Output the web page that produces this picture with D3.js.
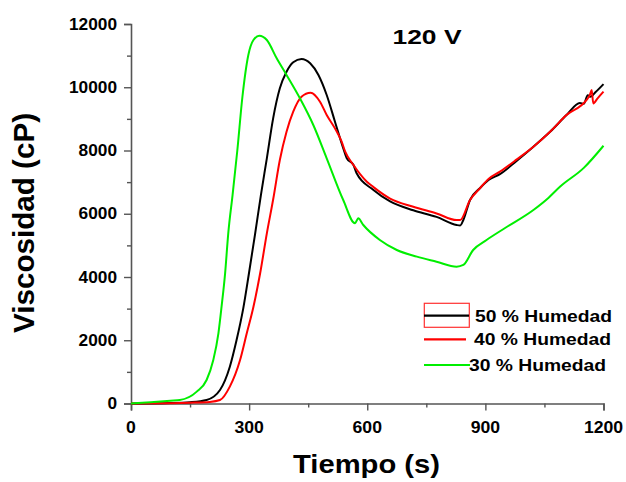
<!DOCTYPE html>
<html><head><meta charset="utf-8">
<script src="https://cdn.jsdelivr.net/npm/d3@7"></script>
<style>
html,body{margin:0;padding:0;background:#fff;}
text{font-family:"Liberation Sans",Arial,sans-serif;font-weight:bold;fill:#000;}
</style></head>
<body><svg id="c" width="626" height="482"></svg>
<script>
const seriesNames = ["50 % Humedad","40 % Humedad","30 % Humedad"];
const seriesColors = ["#000000","#ff0000","#00ee00"];

const t50 = [0,100,150,192,226,251,268,285,300,315,330,345,361,378,395,412,433,455,476,497,518,539,548,565,573,615,658,717,776,827,836,844,861,886,908,937,980,1022,1065,1106,1140,1150,1160,1166,1180,1200];
const v50 = [0,15,40,110,427,1164,2000,3000,4150,5350,6600,7753,9018,9966,10490,10788,10893,10757,10388,9755,8911,8070,7753,7541,7279,6760,6390,6110,5900,5644,5630,5802,6435,6805,7067,7250,7680,8120,8600,9120,9500,9480,9750,9700,9850,10100];

const t40 = [0,100,150,200,226,251,277,294,311,328,345,361,378,395,412,433,456,480,497,518,535,544,565,599,615,658,717,776,827,836,861,886,908,937,980,1022,1065,1106,1157,1165,1170,1174,1185,1200];
const v40 = [0,10,25,50,110,533,1375,2220,3060,4117,5380,6450,7700,8595,9227,9701,9828,9543,9122,8700,8279,7963,7541,7014,6850,6480,6220,6010,5800,5800,6435,6805,7100,7330,7720,8120,8600,9120,9600,9750,9910,9490,9650,9860];

const t30 = [0,50,100,124,167,192,209,222,230,239,247,258,270,283,298,311,326,345,370,395,429,463,497,539,569,574,577,590,632,675,726,776,827,844,869,903,950,1022,1060,1090,1150,1200];
const v30 = [0,40,90,110,375,743,1375,2220,3060,4117,5380,6600,8000,9700,11020,11494,11630,11494,10915,10388,9650,8806,7753,6435,5698,5800,5856,5644,5170,4854,4643,4484,4326,4380,4854,5170,5550,6120,6500,6860,7450,8150];

const xTicks = [0,300,600,900,1200];
const xMinor = [150,450,750,1050];
const yTicks = [0,2000,4000,6000,8000,10000,12000];
const yMinor = [1000,3000,5000,7000,9000,11000];

const svg = d3.select("#c");
const x = d3.scaleLinear().domain([0,1200]).range([131,603.5]);
const y = d3.scaleLinear().domain([0,12000]).range([403.5,24]);
const axisColor = "#555";

// axes
const xa = svg.append("g").attr("transform","translate(0,403.5)");
xa.call(d3.axisBottom(x).tickValues(xTicks).tickSize(7).tickFormat(""));
const xm = svg.append("g").attr("transform","translate(0,403.5)");
xm.call(d3.axisBottom(x).tickValues(xMinor).tickSize(4).tickFormat(""));
const ya = svg.append("g").attr("transform","translate(131,0)");
ya.call(d3.axisLeft(y).tickValues(yTicks).tickSize(7).tickFormat(""));
const ym = svg.append("g").attr("transform","translate(131,0)");
ym.call(d3.axisLeft(y).tickValues(yMinor).tickSize(4).tickFormat(""));
[xa,xm,ya,ym].forEach(g=>{
  g.selectAll("path").attr("stroke",axisColor).attr("stroke-width",1.6);
  g.selectAll("line").attr("stroke",axisColor).attr("stroke-width",1.4);
});
xm.select("path").remove(); ym.select("path").remove();

// tick labels
xTicks.forEach(v=>{
  const s = String(v);
  svg.append("text").attr("x",x(v)).attr("y",432.5).attr("text-anchor","middle")
    .attr("font-size",16).attr("textLength",s.length*9.8).attr("lengthAdjust","spacingAndGlyphs").text(s);
});
yTicks.forEach(v=>{
  const s = String(v);
  svg.append("text").attr("x",117).attr("y",y(v)+5.5).attr("text-anchor","end")
    .attr("font-size",16).attr("textLength",s.length*9.6).attr("lengthAdjust","spacingAndGlyphs").text(s);
});

// axis titles
svg.append("text").attr("x",366.5).attr("y",473).attr("text-anchor","middle")
  .attr("font-size",25).attr("textLength",147).attr("lengthAdjust","spacingAndGlyphs").text("Tiempo (s)");
svg.append("text").attr("transform","translate(34,223) rotate(-90)").attr("text-anchor","middle")
  .attr("font-size",29).attr("textLength",220).attr("lengthAdjust","spacingAndGlyphs").text("Viscosidad (cP)");
svg.append("text").attr("x",392.5).attr("y",43.5)
  .attr("font-size",20).attr("textLength",69).attr("lengthAdjust","spacingAndGlyphs").text("120 V");

// series
const line = d3.line().x(d=>x(d[0])).y(d=>y(d[1])).curve(d3.curveMonotoneX);
const data = [d3.zip(t50,v50), d3.zip(t40,v40), d3.zip(t30,v30)];
data.forEach((d,i)=>{
  svg.append("path").datum(d).attr("d",line).attr("fill","none")
    .attr("stroke",seriesColors[i]).attr("stroke-width",2).attr("stroke-linejoin","round");
});

// legend
const legY = [315.7,339.3,365];
const legTx = [475,474,469];
const legX2 = [469,466,470];
svg.append("rect").attr("x",424.3).attr("y",303.3).attr("width",45).attr("height",24)
  .attr("fill","none").attr("stroke","#ff3030").attr("stroke-width",1.2);
seriesNames.forEach((n,i)=>{
  svg.append("line").attr("x1",424).attr("x2",legX2[i]).attr("y1",legY[i]).attr("y2",legY[i])
    .attr("stroke",seriesColors[i]).attr("stroke-width",2.2);
  svg.append("text").attr("x",legTx[i]).attr("y",legY[i]+6).attr("font-size",16)
    .attr("textLength",137).attr("lengthAdjust","spacingAndGlyphs").text(n);
});
</script></body></html>
